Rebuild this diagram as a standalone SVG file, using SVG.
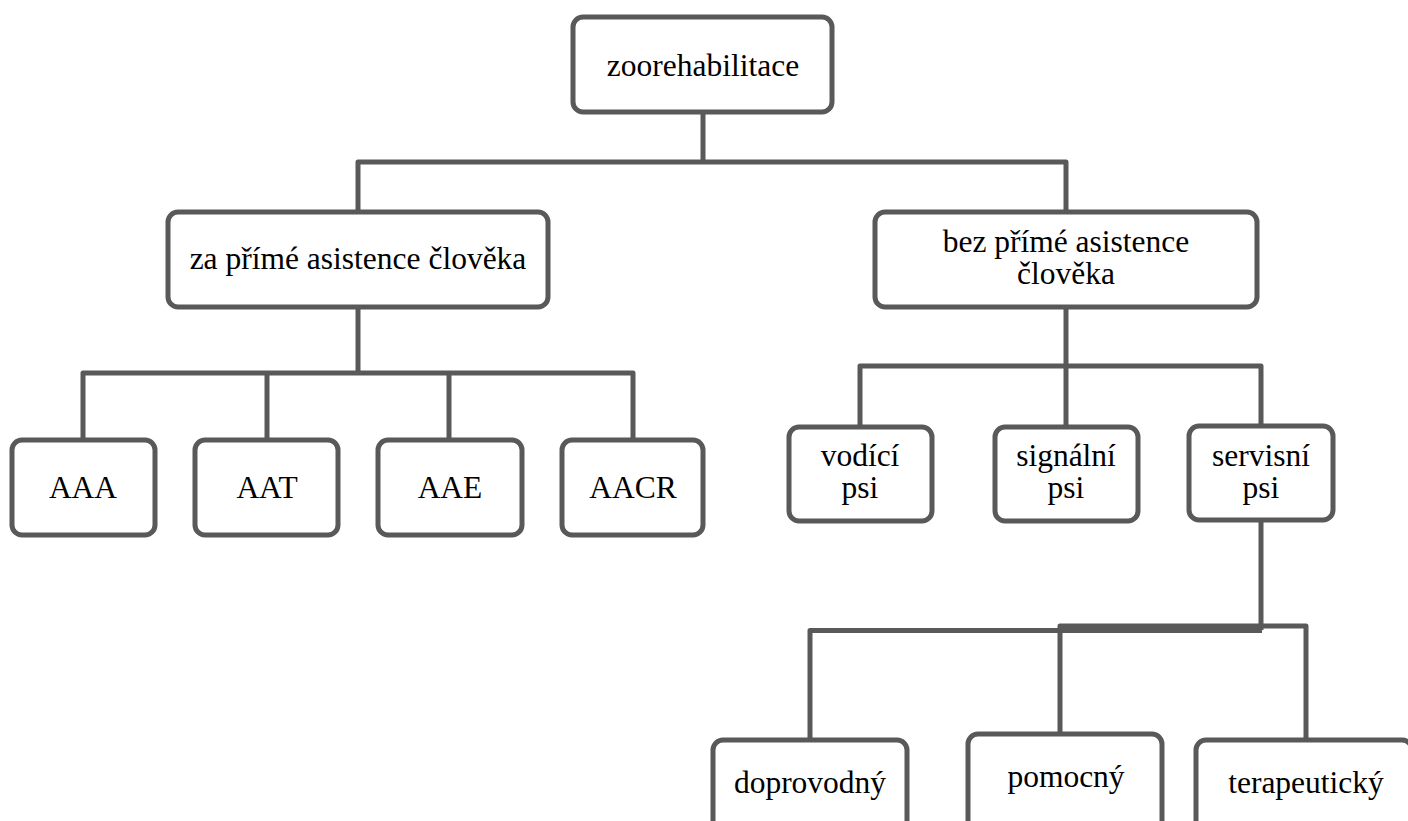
<svg xmlns="http://www.w3.org/2000/svg" width="1408" height="821" viewBox="0 0 1408 821">
<style>
.box{fill:#fff;stroke:#595959;stroke-width:5}
.con{fill:none;stroke:#595959;stroke-width:5;stroke-linejoin:round}
text{font-family:"Liberation Serif","Times New Roman","DejaVu Serif",serif;font-size:31.5px;fill:#000;text-anchor:middle}
</style>
<rect width="1408" height="821" fill="#fff"/>
<g id="connectors">
<path class="con" d="M703 112V162"/>
<path class="con" d="M358 212V162H1066V212"/>
<path class="con" d="M358 307V373"/>
<path class="con" d="M83 440V373H633V440"/>
<path class="con" d="M267 373V440"/>
<path class="con" d="M449 373V440"/>
<path class="con" d="M1066 307V427"/>
<path class="con" d="M860 427V366H1261V427"/>
<path class="con" d="M1261 520V630"/>
<path class="con" d="M810 740V630.5H1262"/>
<path class="con" d="M1060 735V626H1306V740"/>
</g>
<g id="n-zoorehabilitace"><rect class="box" x="573" y="17" width="259" height="95" rx="10"/><text x="703" y="76">zoorehabilitace</text></g>
<g id="n-za"><rect class="box" x="168" y="212" width="380" height="95" rx="10"/><text x="358" y="269">za přímé asistence člověka</text></g>
<g id="n-bez"><rect class="box" x="875" y="212" width="382" height="95" rx="10"/><text x="1066" y="252">bez přímé asistence</text><text x="1066" y="284">člověka</text></g>
<g id="n-aaa"><rect class="box" x="12" y="440" width="143" height="95" rx="10"/><text x="83" y="498">AAA</text></g>
<g id="n-aat"><rect class="box" x="195" y="440" width="143" height="95" rx="10"/><text x="267" y="498">AAT</text></g>
<g id="n-aae"><rect class="box" x="378" y="440" width="144" height="95" rx="10"/><text x="450" y="498">AAE</text></g>
<g id="n-aacr"><rect class="box" x="562" y="440" width="141" height="95" rx="10"/><text x="633" y="498">AACR</text></g>
<g id="n-vodici"><rect class="box" x="789" y="427" width="143" height="94" rx="10"/><text x="860" y="466">vodící</text><text x="860" y="498">psi</text></g>
<g id="n-signalni"><rect class="box" x="995" y="427" width="143" height="94" rx="10"/><text x="1066" y="466">signální</text><text x="1066" y="498">psi</text></g>
<g id="n-servisni"><rect class="box" x="1189" y="426" width="144" height="94" rx="10"/><text x="1261" y="466">servisní</text><text x="1261" y="498">psi</text></g>
<g id="n-doprovodny"><rect class="box" x="713" y="740" width="194" height="100" rx="10"/><text x="810" y="793">doprovodný</text></g>
<g id="n-pomocny"><rect class="box" x="968" y="734" width="194" height="100" rx="10"/><text x="1066" y="787">pomocný</text></g>
<g id="n-terapeuticky"><rect class="box" x="1196" y="740" width="216" height="100" rx="10"/><text x="1306" y="793">terapeutický</text></g>
</svg>
